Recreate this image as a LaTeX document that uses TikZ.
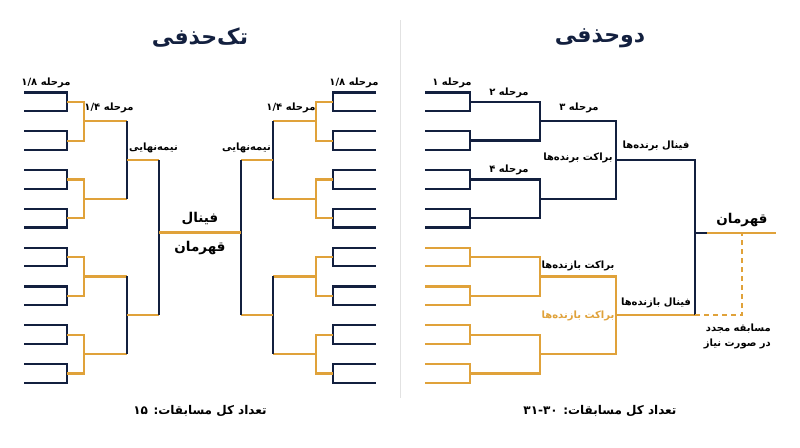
\documentclass[tikz,border=0pt]{standalone}
\usepackage{fontspec}
\setmainfont{DejaVu Sans}
\newfontfamily\arabicfont[Script=Arabic]{DejaVu Sans}
\TeXXeTstate=1
\definecolor{navy}{HTML}{13203F}
\definecolor{gold}{HTML}{E0A23A}
\definecolor{divgray}{HTML}{E2E2E2}
\tikzset{
  nv/.style={draw=navy,line width=2.3pt,line join=miter},
  og/.style={draw=gold,line width=2.2pt,line join=miter},
  ogdash/.style={draw=gold,line width=1.6pt,dash pattern=on 5pt off 4pt},
  lbl/.style={font=\arabicfont\bfseries\fontsize{10}{12}\selectfont,text=black,inner sep=0pt},
  bigl/.style={font=\arabicfont\bfseries\fontsize{13.5}{15}\selectfont,text=black,inner sep=0pt},
  titl/.style={font=\arabicfont\bfseries\fontsize{22}{25}\selectfont,text=navy,inner sep=0pt},
  totl/.style={font=\arabicfont\bfseries\fontsize{12}{14}\selectfont,text=black,inner sep=0pt}
}
\newcommand\halfbracket{%
  \foreach \i in {0,...,7}{
    \pgfmathsetmacro\ty{92.5+38.8*\i}
    \pgfmathsetmacro\by{\ty+18.6}
    \draw[nv] (24,\ty) -- (67,\ty) -- (67,\by) -- (24,\by);
  }
  \foreach \j in {0,...,3}{
    \pgfmathsetmacro\ma{101.8+77.6*\j}
    \pgfmathsetmacro\mb{\ma+38.8}
    \pgfmathsetmacro\q{\ma+19.4}
    \draw[og] (67,\ma) -- (84,\ma) -- (84,\mb) -- (67,\mb);
    \draw[og] (84,\q) -- (127,\q);
  }
  \foreach \k in {0,1}{
    \pgfmathsetmacro\qa{121.2+155.2*\k}
    \pgfmathsetmacro\qb{\qa+77.6}
    \pgfmathsetmacro\s{\qa+38.8}
    \draw[nv] (127,\qa) -- (127,\qb);
    \draw[og] (127,\s) -- (159,\s);
  }
  \draw[nv] (159,160) -- (159,315.2);
}
\begin{document}
\begin{tikzpicture}[x=1pt,y=-1pt]
\useasboundingbox[fill=white] (0,0) rectangle (800,447);
% divider
\draw[divgray,line width=1pt] (400,20) -- (400,398);
% ---------------- single elimination ----------------
\begin{scope}
  \halfbracket
\end{scope}
\begin{scope}[xshift=400pt,xscale=-1]
  \halfbracket
\end{scope}
\coordinate (fl) at (159,232.5);
\coordinate (fr) at (241,232.5);
\draw[og] (fl) -- (fr);
\node[titl] (t1) at (200,38) {\beginR تک‌حذفی\endR};
\node[lbl] (a18l) at (46,83) {\beginR مرحله \beginL۱/۸\endL\endR};
\node[lbl] (a18r) at (354,83) {\beginR مرحله \beginL۱/۸\endL\endR};
\node[lbl] (a14l) at (109,108) {\beginR مرحله \beginL۱/۴\endL\endR};
\node[lbl] (a14r) at (291,108) {\beginR مرحله \beginL۱/۴\endL\endR};
\node[lbl] (sml) at (153.5,148) {\beginR نیمه‌نهایی\endR};
\node[lbl] (smr) at (246.5,148) {\beginR نیمه‌نهایی\endR};
\node[bigl] (fin) at (200,219) {\beginR فینال\endR};
\node[bigl] (ch1) at (200,248) {\beginR قهرمان\endR};
\node[totl] (tot1) at (200,411.5) {\beginR تعداد کل مسابقات: \beginL۱۵\endL\endR};
% ---------------- double elimination ----------------
\foreach \i in {0,...,7}{
  \pgfmathsetmacro\ty{92.5+38.8*\i}
  \pgfmathsetmacro\by{\ty+18.6}
  \ifnum\i<4
    \draw[nv] (425,\ty) -- (470,\ty) -- (470,\by) -- (425,\by);
  \else
    \draw[og] (425,\ty) -- (470,\ty) -- (470,\by) -- (425,\by);
  \fi
}
\foreach \j in {0,...,3}{
  \pgfmathsetmacro\ma{101.8+77.6*\j}
  \pgfmathsetmacro\mb{\ma+38.8}
  \ifnum\j<2
    \draw[nv] (470,\ma) -- (540,\ma) -- (540,\mb) -- (470,\mb);
  \else
    \draw[og] (470,\ma) -- (540,\ma) -- (540,\mb) -- (470,\mb);
  \fi
}
\draw[nv] (540,121.2) -- (616,121.2) -- (616,198.8) -- (540,198.8);
\draw[og] (540,276.4) -- (616,276.4) -- (616,354) -- (540,354);
\coordinate (wf) at (695,160);
\coordinate (lf) at (695,315.2);
\coordinate (cj) at (707,233);
\coordinate (ce) at (776,233);
\coordinate (rm) at (742,233);
\coordinate (rc) at (742,315.2);
\draw[og] (616,315.2) -- (lf);
\draw[nv] (616,160) -- (wf) -- (lf);
\draw[nv] (695,233) -- (cj);
\draw[og] (cj) -- (ce);
\draw[ogdash] (lf) -- (rc) -- (rm);
\node[titl] (t2) at (600,38) {\beginR دوحذفی\endR};
\node[lbl] (r1) at (452,83) {\beginR مرحله \beginL۱\endL\endR};
\node[lbl] (r2) at (509,92.5) {\beginR مرحله \beginL۲\endL\endR};
\node[lbl] (r3) at (579,108) {\beginR مرحله \beginL۳\endL\endR};
\node[lbl] (r4) at (509,170) {\beginR مرحله \beginL۴\endL\endR};
\node[lbl] (wb) at (578,158) {\beginR براکت برنده‌ها\endR};
\node[lbl] (wfl) at (656,146) {\beginR فینال برنده‌ها\endR};
\node[bigl] (ch2) at (742,220) {\beginR قهرمان\endR};
\node[lbl] (lb1) at (578,266) {\beginR براکت بازنده‌ها\endR};
\node[lbl,text=gold] (lb2) at (578,316) {\beginR براکت بازنده‌ها\endR};
\node[lbl] (lfl) at (656,302.5) {\beginR فینال بازنده‌ها\endR};
\node[lbl,anchor=east] (re1) at (771,329) {\beginR مسابقه مجدد\endR};
\node[lbl,anchor=east] (re2) at (771,344) {\beginR در صورت نیاز\endR};
\node[totl] (tot2) at (600,411.5) {\beginR تعداد کل مسابقات: \beginL۳۱-۳۰\endL\endR};
\end{tikzpicture}
\end{document}
